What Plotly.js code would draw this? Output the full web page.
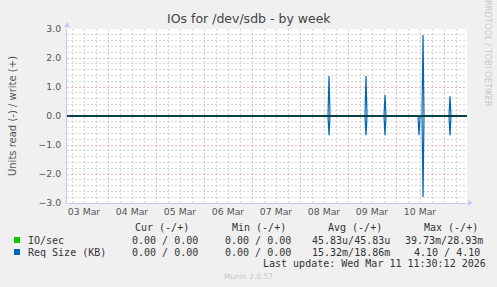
<!DOCTYPE html>
<html>
<head>
<meta charset="utf-8">
<script src="https://cdn.plot.ly/plotly-3.0.1.min.js"></script>
<style>
html,body{margin:0;padding:0;background:#f0f0f0;}
#chart{width:497px;height:287px;}
</style>
</head>
<body>
<div id="chart"></div>
<script>
// ---- data ----
const sampleTimes = [
  '2026-03-03 03:30',
  '2026-03-08 14:00','2026-03-08 14:30','2026-03-08 15:00',
  '2026-03-09 08:30','2026-03-09 09:00','2026-03-09 09:30',
  '2026-03-09 18:00','2026-03-09 18:30','2026-03-09 19:00',
  '2026-03-10 11:00','2026-03-10 11:30','2026-03-10 12:00',
  '2026-03-10 13:00','2026-03-10 13:30','2026-03-10 14:00',
  '2026-03-11 02:30','2026-03-11 03:00','2026-03-11 03:30',
  '2026-03-11 11:30'
];
const reqWrite = [0, 0,1.38,0, 0,1.38,0, 0,0.72,0, 0,0,0, 0,2.79,0, 0,0.68,0, 0];
const reqRead  = [0, 0,-0.66,0, 0,-0.66,0, 0,-0.66,0, 0,-0.66,0, 0,-2.79,0, 0,-0.66,0, 0];
const ioWrite  = [0, 0,0.03,0, 0,0.03,0, 0,0.02,0, 0,0,0, 0,0.03,0, 0,0.02,0, 0];
const ioRead   = [0, 0,-0.04,0, 0,-0.04,0, 0,-0.04,0, 0,-0.04,0, 0,-0.04,0, 0,-0.04,0, 0];

const seriesNames = ['IO/sec', 'Req Size (KB)'];
const seriesColors = ['#00cc00', '#0066b3'];
const colHeaders = ['Cur (-/+)', 'Min (-/+)', 'Avg (-/+)', 'Max (-/+)'];
const curVals = ['0.00 / 0.00', '0.00 / 0.00'];
const minVals = ['0.00 / 0.00', '0.00 / 0.00'];
const avgVals = ['45.83u/45.83u', '15.32m/18.86m'];
const maxVals = ['39.73m/28.93m', '4.10 / 4.10'];
const lastUpdate = 'Last update: Wed Mar 11 11:30:12 2026';

// ---- layout geometry ----
const W = 497, H = 287;
const PL = 67, PR = 467, PT = 29, PB = 203;
const px = x => (x - PL) / (PR - PL);
const py = y => (PB - y) / (PB - PT);

const mono = {family: 'DejaVu Sans Mono', size: 10, color: '#333'};

const traces = [
  {x: sampleTimes, y: ioRead, type: 'scatter', mode: 'lines', line: {color: seriesColors[0], width: 1}, hoverinfo: 'skip'},
  {x: sampleTimes, y: ioWrite, type: 'scatter', mode: 'lines', line: {color: seriesColors[0], width: 1}, hoverinfo: 'skip'},
  {x: sampleTimes, y: reqRead, type: 'scatter', mode: 'lines', line: {color: seriesColors[1], width: 1.2}, hoverinfo: 'skip'},
  {x: sampleTimes, y: reqWrite, type: 'scatter', mode: 'lines', line: {color: seriesColors[1], width: 1.2}, hoverinfo: 'skip'}
];

const ann = [];
const colLeftHdr = [134.3, 231, 327, 423.3];
colHeaders.forEach((t, i) => ann.push({text: t, x: px(colLeftHdr[i]), y: py(227.5)}));
const rowY = [240, 252];
const colLeft = [131, 224, 311.3, 404.3];
seriesNames.forEach((n, r) => {
  ann.push({text: n, x: px(26.7), y: py(rowY[r])});
  [curVals, minVals, avgVals, maxVals].forEach((arr, c) => {
    let left = colLeft[c];
    if (c === 3 && r === 1) left = 413;
    ann.push({text: arr[r], x: px(left), y: py(rowY[r])});
  });
});
ann.push({text: lastUpdate, x: px(261.7), y: py(263.5)});
ann.forEach(a => Object.assign(a, {xref: 'paper', yref: 'paper', xanchor: 'left', yanchor: 'middle', showarrow: false, borderpad: 0, font: mono}));

ann.push({text: 'IOs for /dev/sdb - by week', xref: 'paper', yref: 'paper', x: px(249), y: py(19), xanchor: 'center', yanchor: 'middle', showarrow: false,
  font: {family: 'DejaVu Sans', size: 12.5, color: '#444'}});
ann.push({text: 'Munin 2.0.57', xref: 'paper', yref: 'paper', x: px(248), y: py(276), xanchor: 'center', yanchor: 'middle', showarrow: false,
  font: {family: 'DejaVu Sans', size: 7.5, color: '#c4c4c4'}});
ann.push({text: 'RRDTOOL / TOBI OETIKER', xref: 'paper', yref: 'paper', x: px(488), y: py(53), xanchor: 'center', yanchor: 'middle', showarrow: false, textangle: 90,
  font: {family: 'DejaVu Sans', size: 8.3, color: '#c8c8c8'}});

const shapes = [
  // black zero rule drawn over the series, as in the reference
  {type: 'line', xref: 'paper', x0: 0, x1: 1, yref: 'y', y0: 0, y1: 0, line: {color: '#000', width: 1}, layer: 'above'},
  // axis arrows
  {type: 'path', xref: 'paper', yref: 'paper', xsizemode: 'pixel', ysizemode: 'pixel', xanchor: 0, yanchor: 1,
   path: 'M -3,2 L 0,7 L 3,2 Z', fillcolor: '#c8c8ff', line: {width: 0}},
  {type: 'path', xref: 'paper', yref: 'paper', xsizemode: 'pixel', ysizemode: 'pixel', xanchor: 1, yanchor: 0,
   path: 'M 1,3 L 6,0 L 1,-3 Z', fillcolor: '#c8c8ff', line: {width: 0}},
  // legend swatches
  {type: 'rect', xref: 'paper', yref: 'paper', xsizemode: 'pixel', ysizemode: 'pixel', xanchor: 0, yanchor: 0,
   x0: 14 - PL, x1: 20 - PL, y0: PB - 243, y1: PB - 237, fillcolor: seriesColors[0], line: {width: 0}},
  {type: 'rect', xref: 'paper', yref: 'paper', xsizemode: 'pixel', ysizemode: 'pixel', xanchor: 0, yanchor: 0,
   x0: 14 - PL, x1: 20 - PL, y0: PB - 255, y1: PB - 249, fillcolor: seriesColors[1], line: {width: 0}}
];

const majorGrid = 'rgba(235,140,140,0.6)';
const minorGrid = 'rgba(200,200,200,0.75)';

const layout = {
  width: W, height: H,
  margin: {l: PL, r: W - PR, t: PT, b: H - PB, pad: 0},
  paper_bgcolor: '#f0f0f0',
  plot_bgcolor: '#ffffff',
  showlegend: false,
  xaxis: {
    type: 'date',
    range: ['2026-03-03 03:30', '2026-03-11 11:30'],
    tick0: '2026-03-01 00:00', dtick: 86400000,
    ticklabelmode: 'period',
    tickformat: '%d %b',
    ticks: '',
    showgrid: true, gridcolor: majorGrid, griddash: '2px,2px', gridwidth: 1,
    minor: {tick0: '2026-03-01 00:00', dtick: 6 * 3600000, showgrid: true, gridcolor: minorGrid, griddash: '2px,2px', gridwidth: 1},
    showline: true, linecolor: '#c8c8ff', linewidth: 1,
    zeroline: false,
    tickfont: {family: 'DejaVu Sans', size: 9.3, color: '#555'},
    fixedrange: true
  },
  yaxis: {
    range: [-3, 3],
    tick0: 0, dtick: 1,
    tickformat: '.1f',
    ticks: '',
    ticklabelstandoff: 3,
    showgrid: true, gridcolor: majorGrid, griddash: '2px,2px', gridwidth: 1,
    minor: {dtick: 0.2, showgrid: true, gridcolor: minorGrid, griddash: '2px,2px', gridwidth: 1},
    showline: true, linecolor: '#c8c8ff', linewidth: 1,
    zeroline: false,
    tickfont: {family: 'DejaVu Sans', size: 9.3, color: '#555'},
    title: {text: 'Units read (-) / write (+)', font: {family: 'DejaVu Sans', size: 10, color: '#555'}, standoff: 20},
    fixedrange: true
  },
  annotations: ann,
  shapes: shapes
};

Plotly.newPlot('chart', traces, layout, {staticPlot: true, displayModeBar: false});
</script>
</body>
</html>
